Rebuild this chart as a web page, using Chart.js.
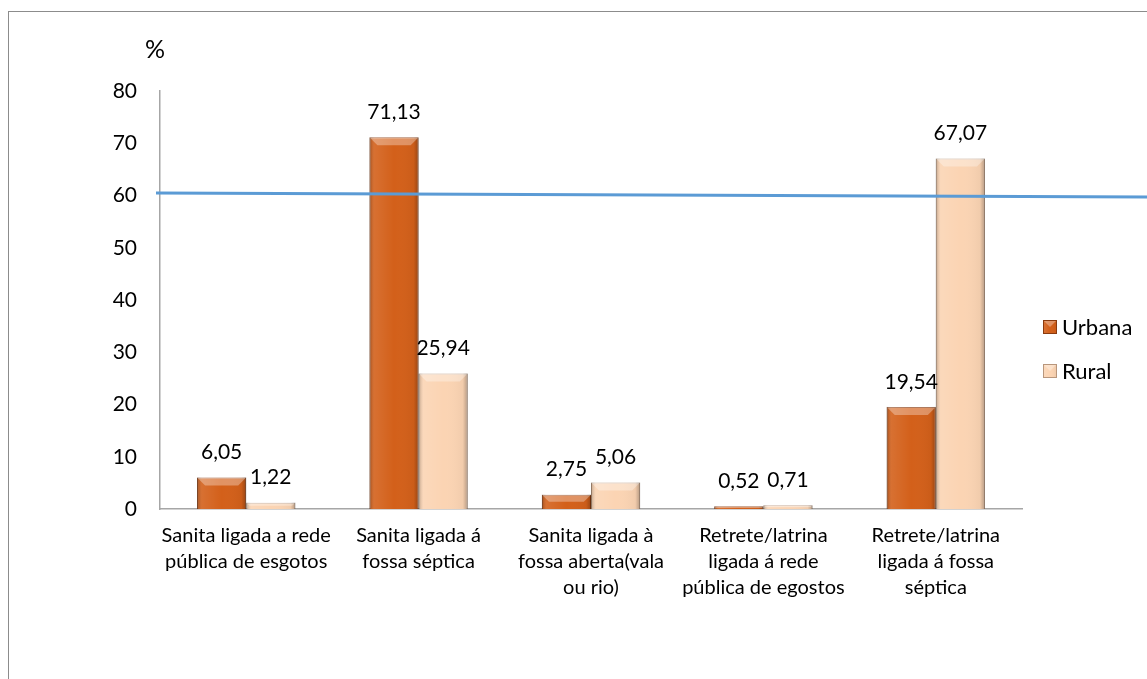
<!DOCTYPE html>
<html><head><meta charset="utf-8">
<script src="https://cdn.jsdelivr.net/npm/chart.js@4.4.0/dist/chart.umd.min.js"></script>
<style>html,body{margin:0;padding:0;background:#fff;overflow:hidden}</style>
</head><body>
<canvas id="c" width="1147" height="679"></canvas>
<script>
const categories = [
  ["Sanita ligada a rede","pública de esgotos"],
  ["Sanita ligada á","fossa séptica"],
  ["Sanita ligada à","fossa aberta(vala","ou rio)"],
  ["Retrete/latrina","ligada á rede","pública de egostos"],
  ["Retrete/latrina","ligada á fossa","séptica"]
];
const urbana = [6.05, 71.13, 2.75, 0.52, 19.54];
const rural  = [1.22, 25.94, 5.06, 0.71, 67.07];
const seriesNames = ["Urbana", "Rural"];
const yTickRange = [0, 80, 10];
const refLine = [60.5, 59.7];
const axisTitle = "%";

const FONT = 'Lato, "Open Sans", "DejaVu Sans", sans-serif';
const COLORS = ['#D3601A', '#FBD4B3'];
const BORDERS = ['#8A3B0F', '#B8967C'];
const fmt = v => v.toFixed(2).replace('.', ',');

function bevel(c, l, t, r, b) {
  const w = r - l, h = b - t;
  if (w <= 0 || h <= 0) return;
  c.save();
  const g = c.createLinearGradient(l, 0, r, 0);
  g.addColorStop(0, 'rgba(0,0,0,0.25)');
  g.addColorStop(0.1, 'rgba(255,255,255,0.1)');
  g.addColorStop(0.5, 'rgba(255,255,255,0)');
  g.addColorStop(0.9, 'rgba(0,0,0,0.04)');
  g.addColorStop(1, 'rgba(0,0,0,0.28)');
  c.fillStyle = g;
  c.fillRect(l, t, w, h);
  const bv = Math.min(8, h / 2, w / 2);
  c.beginPath();
  c.moveTo(l, t); c.lineTo(r, t); c.lineTo(r - bv, t + bv); c.lineTo(l + bv, t + bv); c.closePath();
  c.fillStyle = 'rgba(255,255,255,0.32)';
  c.fill();
  c.restore();
}

const deco = {
  id: 'deco',
  beforeDraw(chart) {
    const c = chart.ctx;
    c.save();
    c.fillStyle = '#fff';
    c.fillRect(0, 0, chart.width, chart.height);
    c.strokeStyle = '#8c8c8c';
    c.lineWidth = 1;
    c.strokeRect(8.5, 11.5, chart.width + 20, chart.height + 20);
    c.restore();
  },
  afterDatasetsDraw(chart) {
    const c = chart.ctx;
    const ys = chart.scales.y;
    chart.data.datasets.forEach((ds, di) => {
      chart.getDatasetMeta(di).data.forEach(el => {
        const p = el.getProps(['x', 'y', 'base', 'width'], true);
        bevel(c, p.x - p.width / 2, p.y, p.x + p.width / 2, p.base);
      });
    });
    c.save();
    c.strokeStyle = '#5B9BD5';
    c.lineWidth = 3;
    c.beginPath();
    c.moveTo(chart.chartArea.left - 4, ys.getPixelForValue(refLine[0]));
    c.lineTo(chart.width, ys.getPixelForValue(refLine[1]));
    c.stroke();
    c.restore();
    c.save();
    c.fillStyle = '#000';
    c.font = '21px ' + FONT;
    c.textAlign = 'center';
    c.textBaseline = 'middle';
    chart.data.datasets.forEach((ds, di) => {
      chart.getDatasetMeta(di).data.forEach((el, i) => {
        const p = el.getProps(['x', 'y'], true);
        c.fillText(fmt(ds.data[i]), p.x, p.y - 25);
      });
    });
    c.textAlign = 'left';
    c.font = '25px ' + FONT;
    c.fillText(axisTitle, 145, 50);
    const ly = [327, 371];
    seriesNames.forEach((n, i) => {
      const x = 1043, y = ly[i] - 7;
      c.fillStyle = COLORS[i];
      c.fillRect(x, y, 14, 14);
      bevel(c, x, y, x + 14, y + 14);
      c.strokeStyle = BORDERS[i];
      c.lineWidth = 1;
      c.strokeRect(x + 0.5, y + 0.5, 13, 13);
      c.fillStyle = '#000';
      c.font = '22px ' + FONT;
      c.textBaseline = 'middle';
      c.fillText(n, 1062, ly[i] + 1);
    });
    c.restore();
  }
};

new Chart(document.getElementById('c'), {
  type: 'bar',
  data: {
    labels: categories,
    datasets: [
      { label: seriesNames[0], data: urbana, backgroundColor: COLORS[0], borderColor: BORDERS[0], borderWidth: 1, categoryPercentage: 0.57, barPercentage: 1 },
      { label: seriesNames[1], data: rural, backgroundColor: COLORS[1], borderColor: BORDERS[1], borderWidth: 1, categoryPercentage: 0.57, barPercentage: 1 }
    ]
  },
  options: {
    responsive: false,
    animation: false,
    layout: { padding: { top: 91, right: 125, left: 0, bottom: 0 } },
    plugins: { legend: { display: false }, tooltip: { enabled: false } },
    scales: {
      x: {
        grid: { display: false, drawTicks: false },
        border: { display: true, color: '#A6A6A6', width: 1.5 },
        ticks: { color: '#000', font: { family: FONT, size: 20, lineHeight: 1.32 }, padding: 13, maxRotation: 0, autoSkip: false },
        afterFit(s) { s.height = 170; }
      },
      y: {
        min: yTickRange[0], max: yTickRange[1],
        grid: { display: false, drawTicks: false },
        border: { display: true, color: '#A6A6A6', width: 1.5 },
        ticks: { stepSize: yTickRange[2], color: '#000', font: { family: FONT, size: 21 }, padding: 23 },
        afterFit(s) { s.width = 160; }
      }
    }
  },
  plugins: [deco]
});
</script>
</body></html>
